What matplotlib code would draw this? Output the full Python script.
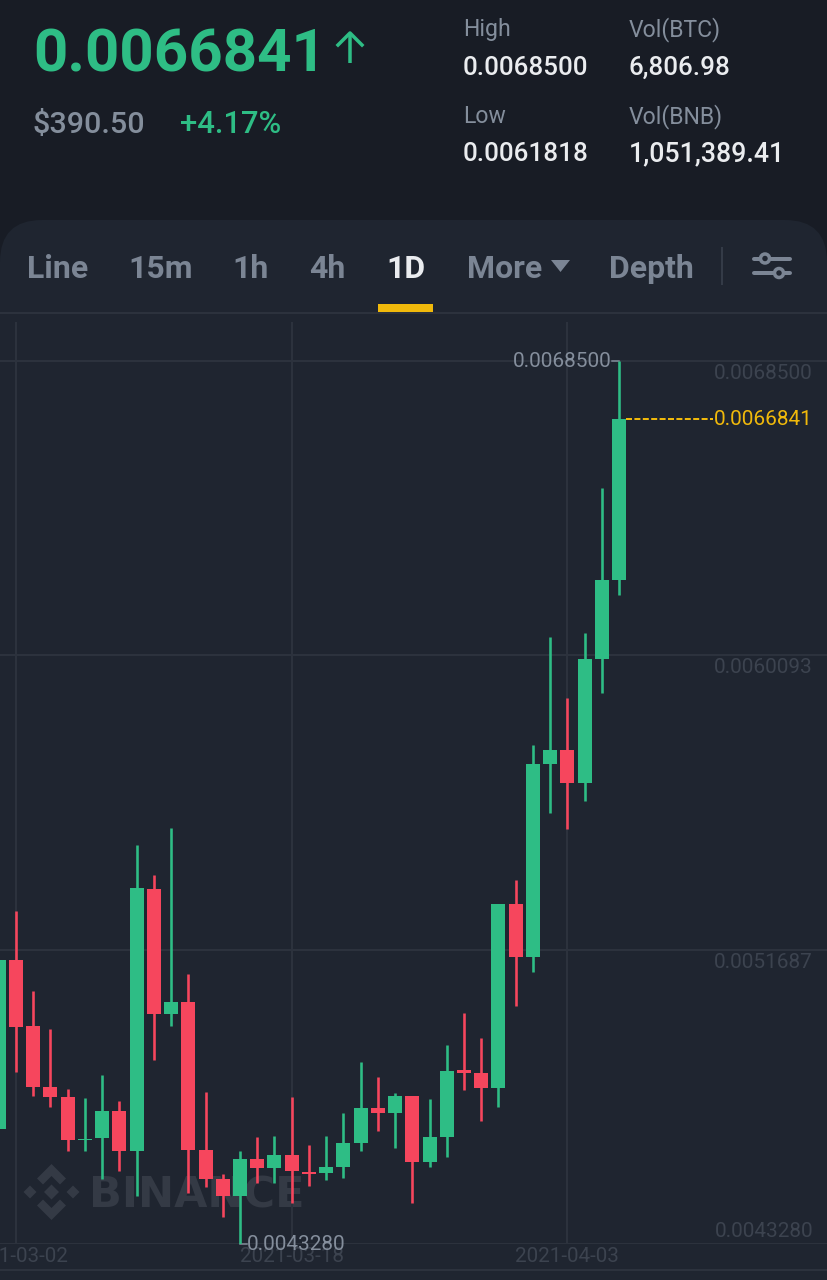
import matplotlib
matplotlib.use('Agg')
import matplotlib.pyplot as plt
import matplotlib.dates as mdates
from matplotlib.patches import FancyBboxPatch, Polygon, Circle
import numpy as np
import pandas as pd

plt.rcParams['font.family'] = ['Roboto', 'DejaVu Sans']

# Candles, one per day, from 2021-03-01
first_day = '2021-03-01'
opens = [0.0046573, 0.0051391, 0.0049506, 0.0047773, 0.0047470, 0.0046250, 0.0046307, 0.0047079, 0.0045928,
         0.0053427, 0.0049858, 0.0050183, 0.0045965, 0.0045136, 0.0044651, 0.0045708, 0.0045442, 0.0045813,
         0.0045336, 0.0045308, 0.0045488, 0.0046156, 0.0047155, 0.0047013, 0.0047516, 0.0045613, 0.0046345,
         0.0048241, 0.0048155, 0.0047744, 0.0052982, 0.0051486, 0.0056990, 0.0057381, 0.0056438, 0.0059980,
         0.0062245]
closes = [0.0051391, 0.0049486, 0.0047773, 0.0047487, 0.0046242, 0.0046293, 0.0047079, 0.0045928, 0.0053456,
          0.0049858, 0.0050183, 0.0045965, 0.0045136, 0.0044651, 0.0045708, 0.0045442, 0.0045813, 0.0045356,
          0.0045288, 0.0045488, 0.0046156, 0.0047164, 0.0047013, 0.0047507, 0.0045613, 0.0046345, 0.0048230,
          0.0048164, 0.0047744, 0.0052982, 0.0051486, 0.0056990, 0.0057381, 0.0056438, 0.0059980, 0.0062245,
          0.0066841]
highs = [0.0051391, 0.0052799, 0.0050497, 0.0049412, 0.0047698, 0.0047441, 0.0048115, 0.0047373, 0.0054676,
         0.0053819, 0.0055162, 0.0051000, 0.0047630, 0.0045279, 0.0045928, 0.0046327, 0.0046373, 0.0047479,
         0.0046099, 0.0046373, 0.0047013, 0.0048487, 0.0048050, 0.0047601, 0.0047516, 0.0047413, 0.0048964,
         0.0049886, 0.0049164, 0.0052982, 0.0053685, 0.0057532, 0.0060626, 0.0058883, 0.0060723, 0.0064881,
         0.0068500]
lows = [0.0046573, 0.0048193, 0.0047507, 0.0047201, 0.0045928, 0.0045928, 0.0045145, 0.0045374, 0.0044651,
        0.0048535, 0.0049515, 0.0044728, 0.0044899, 0.0044042, 0.0043280, 0.0045014, 0.0045014, 0.0044442,
        0.0044945, 0.0045108, 0.0045165, 0.0045945, 0.0046499, 0.0046030, 0.0044459, 0.0045488, 0.0045756,
        0.0047687, 0.0046802, 0.0047201, 0.0050078, 0.0051057, 0.0055582, 0.0055133, 0.0055941, 0.0059026,
        0.0061816]

price_ticks = [0.0068500, 0.0060093, 0.0051687, 0.0043280]
price_labels = ['0.0068500', '0.0060093', '0.0051687', '0.0043280']
date_ticks = ['2021-03-02', '2021-03-18', '2021-04-03']
high_price = 0.0068500
low_price = 0.0043280
last_price = 0.0066841

tabs = ['Line', '15m', '1h', '4h', '1D', 'More', 'Depth']
tab_x = [27, 128, 232, 309, 386, 467, 609]

W, H = 827, 1280
PX = 0.72  # points per pixel at dpi 100
GREEN = '#2ebd85'
RED = '#f6465d'
YELLOW = '#f0b90b'
GRID = '#2c323d'
PANEL = '#1f2530'
HEADER = '#181c25'
GREY = '#848e9c'
DIM = '#3c434f'
WHITE = '#eaecef'
TAB = '#7b8594'
MARK = '#343a45'

fig = plt.figure(figsize=(W / 100, H / 100), dpi=100, facecolor=HEADER)

# page furniture, in pixels
bg = fig.add_axes([0, 0, 1, 1], zorder=0)
bg.set_xlim(0, W)
bg.set_ylim(H, 0)
bg.axis('off')
bg.add_patch(FancyBboxPatch((0, 220), W, 1200, boxstyle='round,pad=0,rounding_size=42',
                            fc=PANEL, ec='none'))

bg.text(33, 72, '0.0066841', color=GREEN, fontsize=60 * PX, fontweight='bold')
bg.plot([350, 350], [33, 63], color=GREEN, lw=3.5 * PX, solid_capstyle='butt')
bg.plot([338, 350, 362], [45, 33, 45], color=GREEN, lw=3.5 * PX)
bg.text(33, 133, '$390.50', color=GREY, fontsize=30.5 * PX, fontweight='medium')
bg.text(180, 133, '+4.17%', color=GREEN, fontsize=31 * PX, fontweight='medium')

bg.text(463, 36, 'High', color=GREY, fontsize=23 * PX)
bg.text(629, 36, 'Vol(BTC)', color=GREY, fontsize=23 * PX)
bg.text(463, 75, '0.0068500', color=WHITE, fontsize=26 * PX, fontweight='medium')
bg.text(629, 75, '6,806.98', color=WHITE, fontsize=26 * PX, fontweight='medium')
bg.text(463, 123, 'Low', color=GREY, fontsize=23 * PX)
bg.text(629, 123, 'Vol(BNB)', color=GREY, fontsize=23 * PX)
bg.text(463, 161, '0.0061818', color=WHITE, fontsize=26 * PX, fontweight='medium')
bg.text(629, 161, '1,051,389.41', color=WHITE, fontsize=26.8 * PX, fontweight='medium')

for name, x in zip(tabs, tab_x):
    bg.text(x, 278, name, color=WHITE if name == '1D' else TAB, fontsize=32 * PX, fontweight='bold')
bg.add_patch(Polygon([(551, 260), (570, 260), (560.5, 272)], fc=TAB, ec='none'))
bg.plot([722, 722], [248, 284], color='#343b47', lw=2 * PX)
bg.plot([378, 433], [308, 308], color=YELLOW, lw=8 * PX, solid_capstyle='butt')
bg.plot([0, W], [313, 313], color=GRID, lw=2 * PX)
bg.plot([0, W], [1270, 1270], color=GRID, lw=2 * PX)

for y, cx in [(258.5, 765), (273, 779)]:
    bg.plot([754, 790], [y, y], color=TAB, lw=4 * PX, solid_capstyle='round')
    bg.add_patch(Circle((cx, y), 4.5, fc=PANEL, ec=TAB, lw=3.5 * PX, zorder=3))

# watermark
lx, ly = 51.5, 1192
chevron = [(0, -28), (14.5, -13.5), (8.5, -7.5), (0, -16), (-8.5, -7.5), (-14.5, -13.5)]
bg.add_patch(Polygon([(lx + a, ly + b) for a, b in chevron], fc=MARK, ec='none'))
bg.add_patch(Polygon([(lx + a, ly - b) for a, b in chevron], fc=MARK, ec='none'))
for cx, r in [(lx, 7.5), (lx - 21.5, 6.5), (lx + 21.5, 6.5)]:
    bg.add_patch(Polygon([(cx - r, ly), (cx, ly - r), (cx + r, ly), (cx, ly + r)], fc=MARK, ec='none'))
bg.text(89, 1207, 'BINANCE', color=MARK, fontsize=43 * PX, fontweight='bold', family='DejaVu Sans')

# chart: pixel rows 322..1244, price per pixel from the 0.00685 and 0.004328 gridlines
px_price = (high_price - low_price) / (1244 - 361)
px_day = 17.23
ax = fig.add_axes([0, (H - 1244) / H, 1, (1244 - 322) / H], zorder=1)
ax.patch.set_alpha(0)
for s in ax.spines.values():
    s.set_visible(False)

days = mdates.date2num(pd.date_range(first_day, periods=len(opens)))
opens_a, closes_a = np.array(opens), np.array(closes)
up = closes_a >= opens_a
colors = [GREEN if u else RED for u in up]

ax.vlines(days, lows, highs, colors=colors, lw=2.6 * PX, zorder=3)
ax.bar(days, np.abs(closes_a - opens_a), bottom=np.minimum(opens_a, closes_a), width=14 / px_day,
       color=colors, zorder=4)

left = mdates.datestr2num(date_ticks[0]) - 16 / px_day
ax.set_xlim(left, left + W / px_day)
ax.set_ylim(low_price, high_price + 39 * px_price)
ax.set_xticks(mdates.datestr2num(date_ticks))
ax.set_xticklabels(date_ticks, color=DIM, fontsize=20.6 * PX)
ax.set_yticks(price_ticks)
ax.tick_params(length=0, labelleft=False, pad=2)
ax.grid(True, color=GRID, lw=2 * PX, zorder=0)
ax.set_axisbelow(True)

for p, label in zip(price_ticks, price_labels):
    dy = 7 if p == low_price else -18
    ax.annotate(label, xy=(1, p), xycoords=('axes fraction', 'data'), xytext=(-14 * PX, dy * PX),
                textcoords='offset points', ha='right', va='baseline', color=DIM, fontsize=20.8 * PX,
                annotation_clip=False)

x_last = days[-1]
x_low = days[lows.index(low_price)]
ax.plot([x_last - 7 / px_day, x_last], [high_price, high_price], color=GREY, lw=1.5 * PX, zorder=2, clip_on=False)
ax.annotate('0.0068500', xy=(x_last, high_price), xytext=(-7 * PX, -6 * PX), textcoords='offset points',
            ha='right', va='baseline', color=GREY, fontsize=20.8 * PX, annotation_clip=False)
ax.plot([x_low, x_low + 7 / px_day], [low_price, low_price], color=GREY, lw=1.5 * PX, zorder=2, clip_on=False)
ax.annotate('0.0043280', xy=(x_low, low_price), xytext=(7 * PX, -6.5 * PX), textcoords='offset points',
            ha='left', va='baseline', color=GREY, fontsize=20.8 * PX, annotation_clip=False)

ax.plot([x_last + 7 / px_day, x_last + 94 / px_day], [last_price, last_price], color=YELLOW, lw=2 * PX,
        dashes=(3, 1.2), zorder=2)
ax.annotate('0.0066841', xy=(x_last, last_price), xytext=(95 * PX, -6 * PX), textcoords='offset points',
            ha='left', va='baseline', color=YELLOW, fontsize=20.8 * PX, annotation_clip=False)

fig.savefig('out.png', dpi=100, facecolor=fig.get_facecolor())
